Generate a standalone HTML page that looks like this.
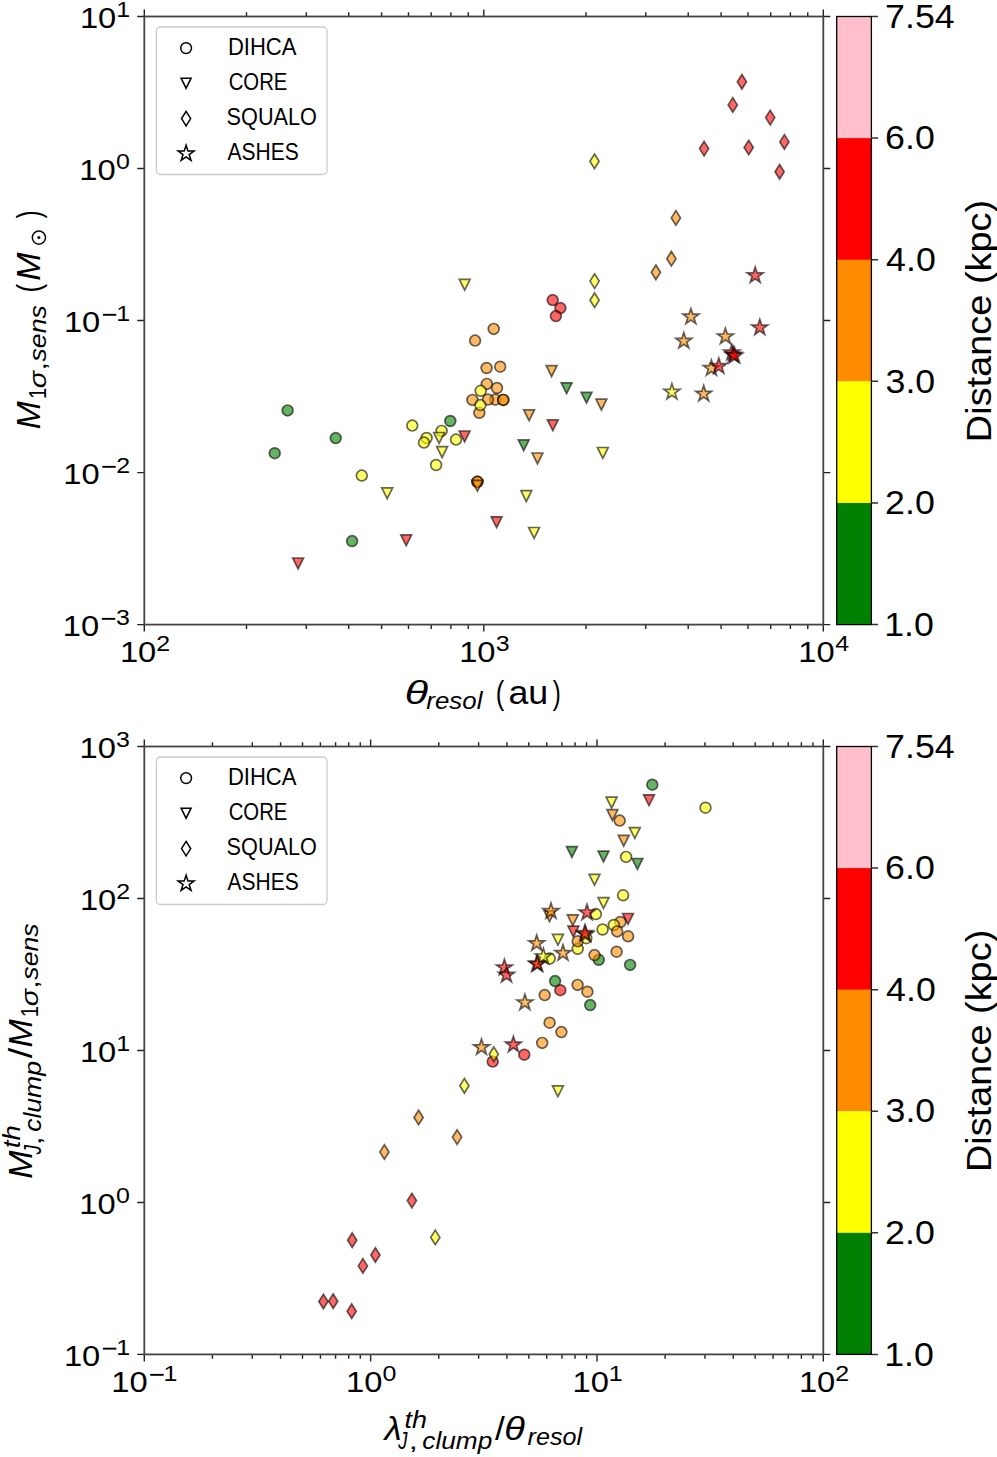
<!DOCTYPE html><html><head><meta charset="utf-8"><style>html,body{margin:0;padding:0;background:#fff;}svg{display:block;}text{font-family:"Liberation Sans", sans-serif;}</style></head><body>
<svg width="997" height="1457" viewBox="0 0 997 1457">
<rect width="997" height="1457" fill="#fff"/>
<circle cx="287.6" cy="410.4" r="5.4" fill="rgb(0,128,0)" fill-opacity="0.6" stroke="#000" stroke-opacity="0.6" stroke-width="1.7"/>
<circle cx="335.7" cy="438.1" r="5.4" fill="rgb(0,128,0)" fill-opacity="0.6" stroke="#000" stroke-opacity="0.6" stroke-width="1.7"/>
<circle cx="274.7" cy="453.2" r="5.4" fill="rgb(0,128,0)" fill-opacity="0.6" stroke="#000" stroke-opacity="0.6" stroke-width="1.7"/>
<circle cx="361.8" cy="475.6" r="5.4" fill="rgb(255,255,0)" fill-opacity="0.6" stroke="#000" stroke-opacity="0.6" stroke-width="1.7"/>
<circle cx="352.1" cy="541.1" r="5.4" fill="rgb(0,128,0)" fill-opacity="0.6" stroke="#000" stroke-opacity="0.6" stroke-width="1.7"/>
<circle cx="412.3" cy="425.6" r="5.4" fill="rgb(255,255,0)" fill-opacity="0.6" stroke="#000" stroke-opacity="0.6" stroke-width="1.7"/>
<circle cx="450.3" cy="421" r="5.4" fill="rgb(0,128,0)" fill-opacity="0.6" stroke="#000" stroke-opacity="0.6" stroke-width="1.7"/>
<circle cx="441.6" cy="430.9" r="5.4" fill="rgb(255,255,0)" fill-opacity="0.6" stroke="#000" stroke-opacity="0.6" stroke-width="1.7"/>
<circle cx="426.6" cy="438" r="5.4" fill="rgb(255,255,0)" fill-opacity="0.6" stroke="#000" stroke-opacity="0.6" stroke-width="1.7"/>
<circle cx="424" cy="442.6" r="5.4" fill="rgb(255,255,0)" fill-opacity="0.6" stroke="#000" stroke-opacity="0.6" stroke-width="1.7"/>
<circle cx="456" cy="439.6" r="5.4" fill="rgb(255,255,0)" fill-opacity="0.6" stroke="#000" stroke-opacity="0.6" stroke-width="1.7"/>
<circle cx="436.1" cy="465" r="5.4" fill="rgb(255,255,0)" fill-opacity="0.6" stroke="#000" stroke-opacity="0.6" stroke-width="1.7"/>
<circle cx="477.4" cy="481.8" r="5.4" fill="rgb(255,140,0)" fill-opacity="0.6" stroke="#000" stroke-opacity="0.6" stroke-width="1.7"/>
<circle cx="477.4" cy="481.8" r="5.4" fill="rgb(255,140,0)" fill-opacity="0.6" stroke="#000" stroke-opacity="0.6" stroke-width="1.7"/>
<circle cx="493.7" cy="328.9" r="5.4" fill="rgb(255,140,0)" fill-opacity="0.6" stroke="#000" stroke-opacity="0.6" stroke-width="1.7"/>
<circle cx="475.1" cy="340.6" r="5.4" fill="rgb(255,140,0)" fill-opacity="0.6" stroke="#000" stroke-opacity="0.6" stroke-width="1.7"/>
<circle cx="486.6" cy="368" r="5.4" fill="rgb(255,140,0)" fill-opacity="0.6" stroke="#000" stroke-opacity="0.6" stroke-width="1.7"/>
<circle cx="500.2" cy="366.7" r="5.4" fill="rgb(255,140,0)" fill-opacity="0.6" stroke="#000" stroke-opacity="0.6" stroke-width="1.7"/>
<circle cx="486.8" cy="383.9" r="5.4" fill="rgb(255,140,0)" fill-opacity="0.6" stroke="#000" stroke-opacity="0.6" stroke-width="1.7"/>
<circle cx="497" cy="388" r="5.4" fill="rgb(255,140,0)" fill-opacity="0.6" stroke="#000" stroke-opacity="0.6" stroke-width="1.7"/>
<circle cx="480.7" cy="390.8" r="5.4" fill="rgb(255,255,0)" fill-opacity="0.6" stroke="#000" stroke-opacity="0.6" stroke-width="1.7"/>
<circle cx="472.4" cy="399.9" r="5.4" fill="rgb(255,140,0)" fill-opacity="0.6" stroke="#000" stroke-opacity="0.6" stroke-width="1.7"/>
<circle cx="495.3" cy="399.6" r="5.4" fill="rgb(255,140,0)" fill-opacity="0.6" stroke="#000" stroke-opacity="0.6" stroke-width="1.7"/>
<circle cx="487.9" cy="399.6" r="5.4" fill="rgb(255,140,0)" fill-opacity="0.6" stroke="#000" stroke-opacity="0.6" stroke-width="1.7"/>
<circle cx="503.3" cy="399.9" r="5.4" fill="rgb(255,140,0)" fill-opacity="0.6" stroke="#000" stroke-opacity="0.6" stroke-width="1.7"/>
<circle cx="503.3" cy="399.9" r="5.4" fill="rgb(255,140,0)" fill-opacity="0.6" stroke="#000" stroke-opacity="0.6" stroke-width="1.7"/>
<circle cx="479.3" cy="412.8" r="5.4" fill="rgb(255,140,0)" fill-opacity="0.6" stroke="#000" stroke-opacity="0.6" stroke-width="1.7"/>
<circle cx="480.4" cy="405.1" r="5.4" fill="rgb(255,255,0)" fill-opacity="0.6" stroke="#000" stroke-opacity="0.6" stroke-width="1.7"/>
<circle cx="552.7" cy="300.1" r="5.4" fill="rgb(255,0,0)" fill-opacity="0.6" stroke="#000" stroke-opacity="0.6" stroke-width="1.7"/>
<circle cx="560.4" cy="308.1" r="5.4" fill="rgb(255,0,0)" fill-opacity="0.6" stroke="#000" stroke-opacity="0.6" stroke-width="1.7"/>
<circle cx="555.9" cy="316.1" r="5.4" fill="rgb(255,0,0)" fill-opacity="0.6" stroke="#000" stroke-opacity="0.6" stroke-width="1.7"/>
<polygon points="292.7,558 303.5,558 298.1,568.8" fill="rgb(255,0,0)" fill-opacity="0.6" stroke="#000" stroke-opacity="0.6" stroke-width="1.7" stroke-miterlimit="4"/>
<polygon points="381.8,487.9 392.6,487.9 387.2,498.7" fill="rgb(255,255,0)" fill-opacity="0.6" stroke="#000" stroke-opacity="0.6" stroke-width="1.7" stroke-miterlimit="4"/>
<polygon points="400.8,534.9 411.6,534.9 406.2,545.7" fill="rgb(255,0,0)" fill-opacity="0.6" stroke="#000" stroke-opacity="0.6" stroke-width="1.7" stroke-miterlimit="4"/>
<polygon points="433.7,432.5 444.5,432.5 439.1,443.3" fill="rgb(255,255,0)" fill-opacity="0.6" stroke="#000" stroke-opacity="0.6" stroke-width="1.7" stroke-miterlimit="4"/>
<polygon points="459.2,431 470,431 464.6,441.8" fill="rgb(255,0,0)" fill-opacity="0.6" stroke="#000" stroke-opacity="0.6" stroke-width="1.7" stroke-miterlimit="4"/>
<polygon points="436.7,446.7 447.5,446.7 442.1,457.5" fill="rgb(255,255,0)" fill-opacity="0.6" stroke="#000" stroke-opacity="0.6" stroke-width="1.7" stroke-miterlimit="4"/>
<polygon points="472,480.4 482.8,480.4 477.4,491.2" fill="rgb(255,140,0)" fill-opacity="0.6" stroke="#000" stroke-opacity="0.6" stroke-width="1.7" stroke-miterlimit="4"/>
<polygon points="459.3,279.4 470.1,279.4 464.7,290.2" fill="rgb(255,255,0)" fill-opacity="0.6" stroke="#000" stroke-opacity="0.6" stroke-width="1.7" stroke-miterlimit="4"/>
<polygon points="523.7,409.9 534.5,409.9 529.1,420.7" fill="rgb(255,140,0)" fill-opacity="0.6" stroke="#000" stroke-opacity="0.6" stroke-width="1.7" stroke-miterlimit="4"/>
<polygon points="547.4,419.9 558.2,419.9 552.8,430.7" fill="rgb(255,0,0)" fill-opacity="0.6" stroke="#000" stroke-opacity="0.6" stroke-width="1.7" stroke-miterlimit="4"/>
<polygon points="518.3,439.9 529.1,439.9 523.7,450.7" fill="rgb(0,128,0)" fill-opacity="0.6" stroke="#000" stroke-opacity="0.6" stroke-width="1.7" stroke-miterlimit="4"/>
<polygon points="532.1,453 542.9,453 537.5,463.8" fill="rgb(255,140,0)" fill-opacity="0.6" stroke="#000" stroke-opacity="0.6" stroke-width="1.7" stroke-miterlimit="4"/>
<polygon points="520.9,490.7 531.7,490.7 526.3,501.5" fill="rgb(255,255,0)" fill-opacity="0.6" stroke="#000" stroke-opacity="0.6" stroke-width="1.7" stroke-miterlimit="4"/>
<polygon points="491.2,516.8 502,516.8 496.6,527.6" fill="rgb(255,0,0)" fill-opacity="0.6" stroke="#000" stroke-opacity="0.6" stroke-width="1.7" stroke-miterlimit="4"/>
<polygon points="528.7,527.5 539.5,527.5 534.1,538.3" fill="rgb(255,255,0)" fill-opacity="0.6" stroke="#000" stroke-opacity="0.6" stroke-width="1.7" stroke-miterlimit="4"/>
<polygon points="546.2,365.7 557,365.7 551.6,376.5" fill="rgb(255,140,0)" fill-opacity="0.6" stroke="#000" stroke-opacity="0.6" stroke-width="1.7" stroke-miterlimit="4"/>
<polygon points="561.2,382.8 572,382.8 566.6,393.6" fill="rgb(0,128,0)" fill-opacity="0.6" stroke="#000" stroke-opacity="0.6" stroke-width="1.7" stroke-miterlimit="4"/>
<polygon points="581.1,392.4 591.9,392.4 586.5,403.2" fill="rgb(0,128,0)" fill-opacity="0.6" stroke="#000" stroke-opacity="0.6" stroke-width="1.7" stroke-miterlimit="4"/>
<polygon points="596,399.2 606.8,399.2 601.4,410" fill="rgb(255,140,0)" fill-opacity="0.6" stroke="#000" stroke-opacity="0.6" stroke-width="1.7" stroke-miterlimit="4"/>
<polygon points="597.4,447.5 608.2,447.5 602.8,458.3" fill="rgb(255,255,0)" fill-opacity="0.6" stroke="#000" stroke-opacity="0.6" stroke-width="1.7" stroke-miterlimit="4"/>
<polygon points="594.5,154.05 599.08,161.3 594.5,168.55 589.92,161.3" fill="rgb(255,255,0)" fill-opacity="0.6" stroke="#000" stroke-opacity="0.6" stroke-width="1.7" stroke-miterlimit="4"/>
<polygon points="594.6,273.85 599.18,281.1 594.6,288.35 590.02,281.1" fill="rgb(255,255,0)" fill-opacity="0.6" stroke="#000" stroke-opacity="0.6" stroke-width="1.7" stroke-miterlimit="4"/>
<polygon points="594.6,292.95 599.18,300.2 594.6,307.45 590.02,300.2" fill="rgb(255,255,0)" fill-opacity="0.6" stroke="#000" stroke-opacity="0.6" stroke-width="1.7" stroke-miterlimit="4"/>
<polygon points="675.9,210.65 680.48,217.9 675.9,225.15 671.32,217.9" fill="rgb(255,140,0)" fill-opacity="0.6" stroke="#000" stroke-opacity="0.6" stroke-width="1.7" stroke-miterlimit="4"/>
<polygon points="671.4,251.45 675.98,258.7 671.4,265.95 666.82,258.7" fill="rgb(255,140,0)" fill-opacity="0.6" stroke="#000" stroke-opacity="0.6" stroke-width="1.7" stroke-miterlimit="4"/>
<polygon points="655.9,265.05 660.48,272.3 655.9,279.55 651.32,272.3" fill="rgb(255,140,0)" fill-opacity="0.6" stroke="#000" stroke-opacity="0.6" stroke-width="1.7" stroke-miterlimit="4"/>
<polygon points="741.9,74.55 746.48,81.8 741.9,89.05 737.32,81.8" fill="rgb(255,0,0)" fill-opacity="0.6" stroke="#000" stroke-opacity="0.6" stroke-width="1.7" stroke-miterlimit="4"/>
<polygon points="732.8,97.65 737.38,104.9 732.8,112.15 728.22,104.9" fill="rgb(255,0,0)" fill-opacity="0.6" stroke="#000" stroke-opacity="0.6" stroke-width="1.7" stroke-miterlimit="4"/>
<polygon points="770.2,110.35 774.78,117.6 770.2,124.85 765.62,117.6" fill="rgb(255,0,0)" fill-opacity="0.6" stroke="#000" stroke-opacity="0.6" stroke-width="1.7" stroke-miterlimit="4"/>
<polygon points="704.1,141.35 708.68,148.6 704.1,155.85 699.52,148.6" fill="rgb(255,0,0)" fill-opacity="0.6" stroke="#000" stroke-opacity="0.6" stroke-width="1.7" stroke-miterlimit="4"/>
<polygon points="748.7,140.25 753.28,147.5 748.7,154.75 744.12,147.5" fill="rgb(255,0,0)" fill-opacity="0.6" stroke="#000" stroke-opacity="0.6" stroke-width="1.7" stroke-miterlimit="4"/>
<polygon points="784.4,134.65 788.98,141.9 784.4,149.15 779.82,141.9" fill="rgb(255,0,0)" fill-opacity="0.6" stroke="#000" stroke-opacity="0.6" stroke-width="1.7" stroke-miterlimit="4"/>
<polygon points="779.6,164.55 784.18,171.8 779.6,179.05 775.02,171.8" fill="rgb(255,0,0)" fill-opacity="0.6" stroke="#000" stroke-opacity="0.6" stroke-width="1.7" stroke-miterlimit="4"/>
<polygon points="690.9,308.4 689.01,314.2 682.91,314.2 687.85,317.79 685.96,323.6 690.9,320.01 695.84,323.6 693.95,317.79 698.89,314.2 692.79,314.2" fill="rgb(255,140,0)" fill-opacity="0.6" stroke="#000" stroke-opacity="0.6" stroke-width="1.7" stroke-miterlimit="4"/>
<polygon points="683.8,332.6 681.91,338.4 675.81,338.4 680.75,341.99 678.86,347.8 683.8,344.21 688.74,347.8 686.85,341.99 691.79,338.4 685.69,338.4" fill="rgb(255,140,0)" fill-opacity="0.6" stroke="#000" stroke-opacity="0.6" stroke-width="1.7" stroke-miterlimit="4"/>
<polygon points="755.2,267.1 753.31,272.9 747.21,272.9 752.15,276.49 750.26,282.3 755.2,278.71 760.14,282.3 758.25,276.49 763.19,272.9 757.09,272.9" fill="rgb(255,0,0)" fill-opacity="0.6" stroke="#000" stroke-opacity="0.6" stroke-width="1.7" stroke-miterlimit="4"/>
<polygon points="759.8,319.2 757.91,325 751.81,325 756.75,328.59 754.86,334.4 759.8,330.81 764.74,334.4 762.85,328.59 767.79,325 761.69,325" fill="rgb(255,0,0)" fill-opacity="0.6" stroke="#000" stroke-opacity="0.6" stroke-width="1.7" stroke-miterlimit="4"/>
<polygon points="725.4,328.2 723.51,334 717.41,334 722.35,337.59 720.46,343.4 725.4,339.81 730.34,343.4 728.45,337.59 733.39,334 727.29,334" fill="rgb(255,140,0)" fill-opacity="0.6" stroke="#000" stroke-opacity="0.6" stroke-width="1.7" stroke-miterlimit="4"/>
<polygon points="731.8,344.4 729.91,350.2 723.81,350.2 728.75,353.79 726.86,359.6 731.8,356.01 736.74,359.6 734.85,353.79 739.79,350.2 733.69,350.2" fill="rgb(255,0,0)" fill-opacity="0.6" stroke="#000" stroke-opacity="0.6" stroke-width="1.7" stroke-miterlimit="4"/>
<polygon points="733.2,346.6 731.31,352.4 725.21,352.4 730.15,355.99 728.26,361.8 733.2,358.21 738.14,361.8 736.25,355.99 741.19,352.4 735.09,352.4" fill="rgb(255,0,0)" fill-opacity="0.6" stroke="#000" stroke-opacity="0.6" stroke-width="1.7" stroke-miterlimit="4"/>
<polygon points="734.6,347.4 732.71,353.2 726.61,353.2 731.55,356.79 729.66,362.6 734.6,359.01 739.54,362.6 737.65,356.79 742.59,353.2 736.49,353.2" fill="rgb(255,0,0)" fill-opacity="0.6" stroke="#000" stroke-opacity="0.6" stroke-width="1.7" stroke-miterlimit="4"/>
<polygon points="711.4,359.9 709.51,365.7 703.41,365.7 708.35,369.29 706.46,375.1 711.4,371.51 716.34,375.1 714.45,369.29 719.39,365.7 713.29,365.7" fill="rgb(255,140,0)" fill-opacity="0.6" stroke="#000" stroke-opacity="0.6" stroke-width="1.7" stroke-miterlimit="4"/>
<polygon points="718.8,357.9 716.91,363.7 710.81,363.7 715.75,367.29 713.86,373.1 718.8,369.51 723.74,373.1 721.85,367.29 726.79,363.7 720.69,363.7" fill="rgb(255,0,0)" fill-opacity="0.6" stroke="#000" stroke-opacity="0.6" stroke-width="1.7" stroke-miterlimit="4"/>
<polygon points="671.9,383.6 670.01,389.4 663.91,389.4 668.85,392.99 666.96,398.8 671.9,395.21 676.84,398.8 674.95,392.99 679.89,389.4 673.79,389.4" fill="rgb(255,255,0)" fill-opacity="0.6" stroke="#000" stroke-opacity="0.6" stroke-width="1.7" stroke-miterlimit="4"/>
<polygon points="703.7,385.5 701.81,391.3 695.71,391.3 700.65,394.89 698.76,400.7 703.7,397.11 708.64,400.7 706.75,394.89 711.69,391.3 705.59,391.3" fill="rgb(255,140,0)" fill-opacity="0.6" stroke="#000" stroke-opacity="0.6" stroke-width="1.7" stroke-miterlimit="4"/>
<path d="M144.3 624.6L144.3 631.6 M144.3 16.5L144.3 9.5 M246.5 624.6L246.5 628.9 M246.5 16.5L246.5 12.2 M306.28 624.6L306.28 628.9 M306.28 16.5L306.28 12.2 M348.7 624.6L348.7 628.9 M348.7 16.5L348.7 12.2 M381.6 624.6L381.6 628.9 M381.6 16.5L381.6 12.2 M408.48 624.6L408.48 628.9 M408.48 16.5L408.48 12.2 M431.21 624.6L431.21 628.9 M431.21 16.5L431.21 12.2 M450.9 624.6L450.9 628.9 M450.9 16.5L450.9 12.2 M468.27 624.6L468.27 628.9 M468.27 16.5L468.27 12.2 M483.8 624.6L483.8 631.6 M483.8 16.5L483.8 9.5 M586 624.6L586 628.9 M586 16.5L586 12.2 M645.78 624.6L645.78 628.9 M645.78 16.5L645.78 12.2 M688.2 624.6L688.2 628.9 M688.2 16.5L688.2 12.2 M721.1 624.6L721.1 628.9 M721.1 16.5L721.1 12.2 M747.98 624.6L747.98 628.9 M747.98 16.5L747.98 12.2 M770.71 624.6L770.71 628.9 M770.71 16.5L770.71 12.2 M790.4 624.6L790.4 628.9 M790.4 16.5L790.4 12.2 M807.77 624.6L807.77 628.9 M807.77 16.5L807.77 12.2 M823.3 624.6L823.3 631.6 M823.3 16.5L823.3 9.5 M144.3 624.6L137.3 624.6 M823.3 624.6L830.3 624.6 M144.3 472.58L137.3 472.58 M823.3 472.58L830.3 472.58 M144.3 320.55L137.3 320.55 M823.3 320.55L830.3 320.55 M144.3 168.52L137.3 168.52 M823.3 168.52L830.3 168.52 M144.3 16.5L137.3 16.5 M823.3 16.5L830.3 16.5" stroke="#222" stroke-width="1.4" fill="none"/>
<rect x="144.3" y="16.5" width="679" height="608.1" fill="none" stroke="#444" stroke-width="1.8"/>
<text transform="translate(62.87,635.8) scale(1.0899,1)" style="font-size:30px;" fill="#000">10</text>
<rect x="101.86" y="617.9" width="13.4" height="1.9" fill="#000"/>
<text transform="translate(116.01,625.2) scale(1.1200,1)" style="font-size:22.3px;" fill="#000">3</text>
<text transform="translate(63.33,483.78) scale(1.0899,1)" style="font-size:30px;" fill="#000">10</text>
<rect x="102.32" y="465.88" width="13.4" height="1.9" fill="#000"/>
<text transform="translate(116.17,473.18) scale(1.1200,1)" style="font-size:22.3px;" fill="#000">2</text>
<text transform="translate(63.94,331.75) scale(1.0899,1)" style="font-size:30px;" fill="#000">10</text>
<rect x="102.93" y="313.85" width="13.4" height="1.9" fill="#000"/>
<text transform="translate(116.13,321.15) scale(1.1200,1)" style="font-size:22.3px;" fill="#000">1</text>
<text transform="translate(79.37,179.72) scale(1.0899,1)" style="font-size:30px;" fill="#000">10</text>
<text transform="translate(115.89,169.12) scale(1.1200,1)" style="font-size:22.3px;" fill="#000">0</text>
<text transform="translate(79.94,27.7) scale(1.0899,1)" style="font-size:30px;" fill="#000">10</text>
<text transform="translate(116.13,17.1) scale(1.1200,1)" style="font-size:22.3px;" fill="#000">1</text>
<text transform="translate(119.92,662) scale(1.0899,1)" style="font-size:30px;" fill="#000">10</text>
<text transform="translate(156.15,651.4) scale(1.1200,1)" style="font-size:22.3px;" fill="#000">2</text>
<text transform="translate(459.19,662) scale(1.0899,1)" style="font-size:30px;" fill="#000">10</text>
<text transform="translate(495.73,651.4) scale(1.1200,1)" style="font-size:22.3px;" fill="#000">3</text>
<text transform="translate(798.32,662) scale(1.0899,1)" style="font-size:30px;" fill="#000">10</text>
<text transform="translate(835.23,651.4) scale(1.1200,1)" style="font-size:22.3px;" fill="#000">4</text>
<circle cx="492.7" cy="1061.6" r="5.4" fill="rgb(255,0,0)" fill-opacity="0.6" stroke="#000" stroke-opacity="0.6" stroke-width="1.7"/>
<circle cx="524.3" cy="1054.7" r="5.4" fill="rgb(255,0,0)" fill-opacity="0.6" stroke="#000" stroke-opacity="0.6" stroke-width="1.7"/>
<circle cx="560.3" cy="990.2" r="5.4" fill="rgb(255,0,0)" fill-opacity="0.6" stroke="#000" stroke-opacity="0.6" stroke-width="1.7"/>
<circle cx="542.2" cy="1042.9" r="5.4" fill="rgb(255,140,0)" fill-opacity="0.6" stroke="#000" stroke-opacity="0.6" stroke-width="1.7"/>
<circle cx="549.6" cy="1022.7" r="5.4" fill="rgb(255,140,0)" fill-opacity="0.6" stroke="#000" stroke-opacity="0.6" stroke-width="1.7"/>
<circle cx="561.4" cy="1032.1" r="5.4" fill="rgb(255,140,0)" fill-opacity="0.6" stroke="#000" stroke-opacity="0.6" stroke-width="1.7"/>
<circle cx="544.7" cy="995.1" r="5.4" fill="rgb(255,140,0)" fill-opacity="0.6" stroke="#000" stroke-opacity="0.6" stroke-width="1.7"/>
<circle cx="577.6" cy="984.9" r="5.4" fill="rgb(255,140,0)" fill-opacity="0.6" stroke="#000" stroke-opacity="0.6" stroke-width="1.7"/>
<circle cx="587.4" cy="991.7" r="5.4" fill="rgb(255,140,0)" fill-opacity="0.6" stroke="#000" stroke-opacity="0.6" stroke-width="1.7"/>
<circle cx="598.8" cy="959.8" r="5.4" fill="rgb(0,128,0)" fill-opacity="0.6" stroke="#000" stroke-opacity="0.6" stroke-width="1.7"/>
<circle cx="594.5" cy="955.1" r="5.4" fill="rgb(255,140,0)" fill-opacity="0.6" stroke="#000" stroke-opacity="0.6" stroke-width="1.7"/>
<circle cx="616.6" cy="951.7" r="5.4" fill="rgb(255,140,0)" fill-opacity="0.6" stroke="#000" stroke-opacity="0.6" stroke-width="1.7"/>
<circle cx="620.4" cy="922" r="5.4" fill="rgb(255,140,0)" fill-opacity="0.6" stroke="#000" stroke-opacity="0.6" stroke-width="1.7"/>
<circle cx="628.1" cy="936.3" r="5.4" fill="rgb(255,140,0)" fill-opacity="0.6" stroke="#000" stroke-opacity="0.6" stroke-width="1.7"/>
<circle cx="619.7" cy="820.6" r="5.4" fill="rgb(255,140,0)" fill-opacity="0.6" stroke="#000" stroke-opacity="0.6" stroke-width="1.7"/>
<circle cx="555.1" cy="981.1" r="5.4" fill="rgb(0,128,0)" fill-opacity="0.6" stroke="#000" stroke-opacity="0.6" stroke-width="1.7"/>
<circle cx="590.2" cy="1005.1" r="5.4" fill="rgb(0,128,0)" fill-opacity="0.6" stroke="#000" stroke-opacity="0.6" stroke-width="1.7"/>
<circle cx="630.1" cy="964.9" r="5.4" fill="rgb(0,128,0)" fill-opacity="0.6" stroke="#000" stroke-opacity="0.6" stroke-width="1.7"/>
<circle cx="652.3" cy="784.7" r="5.4" fill="rgb(0,128,0)" fill-opacity="0.6" stroke="#000" stroke-opacity="0.6" stroke-width="1.7"/>
<circle cx="595.9" cy="914.1" r="5.4" fill="rgb(255,255,0)" fill-opacity="0.6" stroke="#000" stroke-opacity="0.6" stroke-width="1.7"/>
<circle cx="602.6" cy="929.5" r="5.4" fill="rgb(255,255,0)" fill-opacity="0.6" stroke="#000" stroke-opacity="0.6" stroke-width="1.7"/>
<circle cx="613.8" cy="925" r="5.4" fill="rgb(255,255,0)" fill-opacity="0.6" stroke="#000" stroke-opacity="0.6" stroke-width="1.7"/>
<circle cx="617.2" cy="931.4" r="5.4" fill="rgb(255,140,0)" fill-opacity="0.6" stroke="#000" stroke-opacity="0.6" stroke-width="1.7"/>
<circle cx="623.1" cy="895.3" r="5.4" fill="rgb(255,255,0)" fill-opacity="0.6" stroke="#000" stroke-opacity="0.6" stroke-width="1.7"/>
<circle cx="626.1" cy="856.9" r="5.4" fill="rgb(255,255,0)" fill-opacity="0.6" stroke="#000" stroke-opacity="0.6" stroke-width="1.7"/>
<circle cx="705.5" cy="807.7" r="5.4" fill="rgb(255,255,0)" fill-opacity="0.6" stroke="#000" stroke-opacity="0.6" stroke-width="1.7"/>
<circle cx="549.7" cy="958.6" r="5.4" fill="rgb(255,255,0)" fill-opacity="0.6" stroke="#000" stroke-opacity="0.6" stroke-width="1.7"/>
<circle cx="577.7" cy="948.8" r="5.4" fill="rgb(255,255,0)" fill-opacity="0.6" stroke="#000" stroke-opacity="0.6" stroke-width="1.7"/>
<circle cx="577.7" cy="941.3" r="5.4" fill="rgb(255,140,0)" fill-opacity="0.6" stroke="#000" stroke-opacity="0.6" stroke-width="1.7"/>
<circle cx="586.3" cy="938.2" r="5.4" fill="rgb(255,255,0)" fill-opacity="0.6" stroke="#000" stroke-opacity="0.6" stroke-width="1.7"/>
<polygon points="606.2,797.2 617,797.2 611.6,808" fill="rgb(255,255,0)" fill-opacity="0.6" stroke="#000" stroke-opacity="0.6" stroke-width="1.7" stroke-miterlimit="4"/>
<polygon points="629.4,827.6 640.2,827.6 634.8,838.4" fill="rgb(255,255,0)" fill-opacity="0.6" stroke="#000" stroke-opacity="0.6" stroke-width="1.7" stroke-miterlimit="4"/>
<polygon points="589.1,874.4 599.9,874.4 594.5,885.2" fill="rgb(255,255,0)" fill-opacity="0.6" stroke="#000" stroke-opacity="0.6" stroke-width="1.7" stroke-miterlimit="4"/>
<polygon points="598.1,897.6 608.9,897.6 603.5,908.4" fill="rgb(255,255,0)" fill-opacity="0.6" stroke="#000" stroke-opacity="0.6" stroke-width="1.7" stroke-miterlimit="4"/>
<polygon points="552.5,934.4 563.3,934.4 557.9,945.2" fill="rgb(255,255,0)" fill-opacity="0.6" stroke="#000" stroke-opacity="0.6" stroke-width="1.7" stroke-miterlimit="4"/>
<polygon points="552.5,1085.8 563.3,1085.8 557.9,1096.6" fill="rgb(255,255,0)" fill-opacity="0.6" stroke="#000" stroke-opacity="0.6" stroke-width="1.7" stroke-miterlimit="4"/>
<polygon points="607,809.7 617.8,809.7 612.4,820.5" fill="rgb(255,140,0)" fill-opacity="0.6" stroke="#000" stroke-opacity="0.6" stroke-width="1.7" stroke-miterlimit="4"/>
<polygon points="544.1,910.9 554.9,910.9 549.5,921.7" fill="rgb(255,140,0)" fill-opacity="0.6" stroke="#000" stroke-opacity="0.6" stroke-width="1.7" stroke-miterlimit="4"/>
<polygon points="618.3,835.4 629.1,835.4 623.7,846.2" fill="rgb(255,140,0)" fill-opacity="0.6" stroke="#000" stroke-opacity="0.6" stroke-width="1.7" stroke-miterlimit="4"/>
<polygon points="567.4,914.8 578.2,914.8 572.8,925.6" fill="rgb(255,140,0)" fill-opacity="0.6" stroke="#000" stroke-opacity="0.6" stroke-width="1.7" stroke-miterlimit="4"/>
<polygon points="643.6,794.8 654.4,794.8 649,805.6" fill="rgb(255,0,0)" fill-opacity="0.6" stroke="#000" stroke-opacity="0.6" stroke-width="1.7" stroke-miterlimit="4"/>
<polygon points="622.6,913.5 633.4,913.5 628,924.3" fill="rgb(255,0,0)" fill-opacity="0.6" stroke="#000" stroke-opacity="0.6" stroke-width="1.7" stroke-miterlimit="4"/>
<polygon points="568,926.1 578.8,926.1 573.4,936.9" fill="rgb(255,0,0)" fill-opacity="0.6" stroke="#000" stroke-opacity="0.6" stroke-width="1.7" stroke-miterlimit="4"/>
<polygon points="566.5,846.6 577.3,846.6 571.9,857.4" fill="rgb(0,128,0)" fill-opacity="0.6" stroke="#000" stroke-opacity="0.6" stroke-width="1.7" stroke-miterlimit="4"/>
<polygon points="598.1,851.1 608.9,851.1 603.5,861.9" fill="rgb(0,128,0)" fill-opacity="0.6" stroke="#000" stroke-opacity="0.6" stroke-width="1.7" stroke-miterlimit="4"/>
<polygon points="632,858.5 642.8,858.5 637.4,869.3" fill="rgb(0,128,0)" fill-opacity="0.6" stroke="#000" stroke-opacity="0.6" stroke-width="1.7" stroke-miterlimit="4"/>
<polygon points="411.9,1193.35 416.48,1200.6 411.9,1207.85 407.32,1200.6" fill="rgb(255,0,0)" fill-opacity="0.6" stroke="#000" stroke-opacity="0.6" stroke-width="1.7" stroke-miterlimit="4"/>
<polygon points="352.2,1232.95 356.78,1240.2 352.2,1247.45 347.62,1240.2" fill="rgb(255,0,0)" fill-opacity="0.6" stroke="#000" stroke-opacity="0.6" stroke-width="1.7" stroke-miterlimit="4"/>
<polygon points="375.4,1247.75 379.98,1255 375.4,1262.25 370.82,1255" fill="rgb(255,0,0)" fill-opacity="0.6" stroke="#000" stroke-opacity="0.6" stroke-width="1.7" stroke-miterlimit="4"/>
<polygon points="362.9,1258.65 367.48,1265.9 362.9,1273.15 358.32,1265.9" fill="rgb(255,0,0)" fill-opacity="0.6" stroke="#000" stroke-opacity="0.6" stroke-width="1.7" stroke-miterlimit="4"/>
<polygon points="323.4,1294.25 327.98,1301.5 323.4,1308.75 318.82,1301.5" fill="rgb(255,0,0)" fill-opacity="0.6" stroke="#000" stroke-opacity="0.6" stroke-width="1.7" stroke-miterlimit="4"/>
<polygon points="333.2,1293.95 337.78,1301.2 333.2,1308.45 328.62,1301.2" fill="rgb(255,0,0)" fill-opacity="0.6" stroke="#000" stroke-opacity="0.6" stroke-width="1.7" stroke-miterlimit="4"/>
<polygon points="351.7,1303.95 356.28,1311.2 351.7,1318.45 347.12,1311.2" fill="rgb(255,0,0)" fill-opacity="0.6" stroke="#000" stroke-opacity="0.6" stroke-width="1.7" stroke-miterlimit="4"/>
<polygon points="435.3,1230.15 439.88,1237.4 435.3,1244.65 430.72,1237.4" fill="rgb(255,255,0)" fill-opacity="0.6" stroke="#000" stroke-opacity="0.6" stroke-width="1.7" stroke-miterlimit="4"/>
<polygon points="464.4,1078.55 468.98,1085.8 464.4,1093.05 459.82,1085.8" fill="rgb(255,255,0)" fill-opacity="0.6" stroke="#000" stroke-opacity="0.6" stroke-width="1.7" stroke-miterlimit="4"/>
<polygon points="493.8,1046.95 498.38,1054.2 493.8,1061.45 489.22,1054.2" fill="rgb(255,255,0)" fill-opacity="0.6" stroke="#000" stroke-opacity="0.6" stroke-width="1.7" stroke-miterlimit="4"/>
<polygon points="418.6,1110.25 423.18,1117.5 418.6,1124.75 414.02,1117.5" fill="rgb(255,140,0)" fill-opacity="0.6" stroke="#000" stroke-opacity="0.6" stroke-width="1.7" stroke-miterlimit="4"/>
<polygon points="457.1,1129.85 461.68,1137.1 457.1,1144.35 452.52,1137.1" fill="rgb(255,140,0)" fill-opacity="0.6" stroke="#000" stroke-opacity="0.6" stroke-width="1.7" stroke-miterlimit="4"/>
<polygon points="384.4,1144.75 388.98,1152 384.4,1159.25 379.82,1152" fill="rgb(255,140,0)" fill-opacity="0.6" stroke="#000" stroke-opacity="0.6" stroke-width="1.7" stroke-miterlimit="4"/>
<polygon points="524.9,994.2 523.01,1000 516.91,1000 521.85,1003.59 519.96,1009.4 524.9,1005.81 529.84,1009.4 527.95,1003.59 532.89,1000 526.79,1000" fill="rgb(255,140,0)" fill-opacity="0.6" stroke="#000" stroke-opacity="0.6" stroke-width="1.7" stroke-miterlimit="4"/>
<polygon points="481.5,1039 479.61,1044.8 473.51,1044.8 478.45,1048.39 476.56,1054.2 481.5,1050.61 486.44,1054.2 484.55,1048.39 489.49,1044.8 483.39,1044.8" fill="rgb(255,140,0)" fill-opacity="0.6" stroke="#000" stroke-opacity="0.6" stroke-width="1.7" stroke-miterlimit="4"/>
<polygon points="551,902.9 549.11,908.7 543.01,908.7 547.95,912.29 546.06,918.1 551,914.51 555.94,918.1 554.05,912.29 558.99,908.7 552.89,908.7" fill="rgb(255,140,0)" fill-opacity="0.6" stroke="#000" stroke-opacity="0.6" stroke-width="1.7" stroke-miterlimit="4"/>
<polygon points="536.7,935 534.81,940.8 528.71,940.8 533.65,944.39 531.76,950.2 536.7,946.61 541.64,950.2 539.75,944.39 544.69,940.8 538.59,940.8" fill="rgb(255,140,0)" fill-opacity="0.6" stroke="#000" stroke-opacity="0.6" stroke-width="1.7" stroke-miterlimit="4"/>
<polygon points="563,944.8 561.11,950.6 555.01,950.6 559.95,954.19 558.06,960 563,956.41 567.94,960 566.05,954.19 570.99,950.6 564.89,950.6" fill="rgb(255,140,0)" fill-opacity="0.6" stroke="#000" stroke-opacity="0.6" stroke-width="1.7" stroke-miterlimit="4"/>
<polygon points="585.5,926.1 583.61,931.9 577.51,931.9 582.45,935.49 580.56,941.3 585.5,937.71 590.44,941.3 588.55,935.49 593.49,931.9 587.39,931.9" fill="rgb(255,140,0)" fill-opacity="0.6" stroke="#000" stroke-opacity="0.6" stroke-width="1.7" stroke-miterlimit="4"/>
<polygon points="536.8,955.6 534.91,961.4 528.81,961.4 533.75,964.99 531.86,970.8 536.8,967.21 541.74,970.8 539.85,964.99 544.79,961.4 538.69,961.4" fill="rgb(255,140,0)" fill-opacity="0.6" stroke="#000" stroke-opacity="0.6" stroke-width="1.7" stroke-miterlimit="4"/>
<polygon points="513.4,1036.3 511.51,1042.1 505.41,1042.1 510.35,1045.69 508.46,1051.5 513.4,1047.91 518.34,1051.5 516.45,1045.69 521.39,1042.1 515.29,1042.1" fill="rgb(255,0,0)" fill-opacity="0.6" stroke="#000" stroke-opacity="0.6" stroke-width="1.7" stroke-miterlimit="4"/>
<polygon points="587,904.2 585.11,910 579.01,910 583.95,913.59 582.06,919.4 587,915.81 591.94,919.4 590.05,913.59 594.99,910 588.89,910" fill="rgb(255,0,0)" fill-opacity="0.6" stroke="#000" stroke-opacity="0.6" stroke-width="1.7" stroke-miterlimit="4"/>
<polygon points="584.8,924.9 582.91,930.7 576.81,930.7 581.75,934.29 579.86,940.1 584.8,936.51 589.74,940.1 587.85,934.29 592.79,930.7 586.69,930.7" fill="rgb(255,0,0)" fill-opacity="0.6" stroke="#000" stroke-opacity="0.6" stroke-width="1.7" stroke-miterlimit="4"/>
<polygon points="537.6,955.6 535.71,961.4 529.61,961.4 534.55,964.99 532.66,970.8 537.6,967.21 542.54,970.8 540.65,964.99 545.59,961.4 539.49,961.4" fill="rgb(255,0,0)" fill-opacity="0.6" stroke="#000" stroke-opacity="0.6" stroke-width="1.7" stroke-miterlimit="4"/>
<polygon points="504.4,959.2 502.51,965 496.41,965 501.35,968.59 499.46,974.4 504.4,970.81 509.34,974.4 507.45,968.59 512.39,965 506.29,965" fill="rgb(255,0,0)" fill-opacity="0.6" stroke="#000" stroke-opacity="0.6" stroke-width="1.7" stroke-miterlimit="4"/>
<polygon points="506.5,966.6 504.61,972.4 498.51,972.4 503.45,975.99 501.56,981.8 506.5,978.21 511.44,981.8 509.55,975.99 514.49,972.4 508.39,972.4" fill="rgb(255,0,0)" fill-opacity="0.6" stroke="#000" stroke-opacity="0.6" stroke-width="1.7" stroke-miterlimit="4"/>
<polygon points="543.4,948.2 541.51,954 535.41,954 540.35,957.59 538.46,963.4 543.4,959.81 548.34,963.4 546.45,957.59 551.39,954 545.29,954" fill="rgb(255,255,0)" fill-opacity="0.6" stroke="#000" stroke-opacity="0.6" stroke-width="1.7" stroke-miterlimit="4"/>
<path d="M144.3 1354.4L144.3 1361.4 M144.3 746.5L144.3 739.5 M212.43 1354.4L212.43 1358.7 M212.43 746.5L212.43 742.2 M252.29 1354.4L252.29 1358.7 M252.29 746.5L252.29 742.2 M280.57 1354.4L280.57 1358.7 M280.57 746.5L280.57 742.2 M302.5 1354.4L302.5 1358.7 M302.5 746.5L302.5 742.2 M320.42 1354.4L320.42 1358.7 M320.42 746.5L320.42 742.2 M335.57 1354.4L335.57 1358.7 M335.57 746.5L335.57 742.2 M348.7 1354.4L348.7 1358.7 M348.7 746.5L348.7 742.2 M360.28 1354.4L360.28 1358.7 M360.28 746.5L360.28 742.2 M370.63 1354.4L370.63 1361.4 M370.63 746.5L370.63 739.5 M438.77 1354.4L438.77 1358.7 M438.77 746.5L438.77 742.2 M478.62 1354.4L478.62 1358.7 M478.62 746.5L478.62 742.2 M506.9 1354.4L506.9 1358.7 M506.9 746.5L506.9 742.2 M528.83 1354.4L528.83 1358.7 M528.83 746.5L528.83 742.2 M546.75 1354.4L546.75 1358.7 M546.75 746.5L546.75 742.2 M561.91 1354.4L561.91 1358.7 M561.91 746.5L561.91 742.2 M575.03 1354.4L575.03 1358.7 M575.03 746.5L575.03 742.2 M586.61 1354.4L586.61 1358.7 M586.61 746.5L586.61 742.2 M596.97 1354.4L596.97 1361.4 M596.97 746.5L596.97 739.5 M665.1 1354.4L665.1 1358.7 M665.1 746.5L665.1 742.2 M704.96 1354.4L704.96 1358.7 M704.96 746.5L704.96 742.2 M733.23 1354.4L733.23 1358.7 M733.23 746.5L733.23 742.2 M755.17 1354.4L755.17 1358.7 M755.17 746.5L755.17 742.2 M773.09 1354.4L773.09 1358.7 M773.09 746.5L773.09 742.2 M788.24 1354.4L788.24 1358.7 M788.24 746.5L788.24 742.2 M801.37 1354.4L801.37 1358.7 M801.37 746.5L801.37 742.2 M812.94 1354.4L812.94 1358.7 M812.94 746.5L812.94 742.2 M823.3 1354.4L823.3 1361.4 M823.3 746.5L823.3 739.5 M144.3 1354.4L137.3 1354.4 M823.3 1354.4L830.3 1354.4 M144.3 1202.43L137.3 1202.43 M823.3 1202.43L830.3 1202.43 M144.3 1050.45L137.3 1050.45 M823.3 1050.45L830.3 1050.45 M144.3 898.48L137.3 898.48 M823.3 898.48L830.3 898.48 M144.3 746.5L137.3 746.5 M823.3 746.5L830.3 746.5" stroke="#222" stroke-width="1.4" fill="none"/>
<rect x="144.3" y="746.5" width="679" height="607.9" fill="none" stroke="#444" stroke-width="1.8"/>
<text transform="translate(63.94,1365.6) scale(1.0899,1)" style="font-size:30px;" fill="#000">10</text>
<rect x="102.93" y="1347.7" width="13.4" height="1.9" fill="#000"/>
<text transform="translate(116.13,1355) scale(1.1200,1)" style="font-size:22.3px;" fill="#000">1</text>
<text transform="translate(79.37,1213.63) scale(1.0899,1)" style="font-size:30px;" fill="#000">10</text>
<text transform="translate(115.89,1203.03) scale(1.1200,1)" style="font-size:22.3px;" fill="#000">0</text>
<text transform="translate(79.94,1061.65) scale(1.0899,1)" style="font-size:30px;" fill="#000">10</text>
<text transform="translate(116.13,1051.05) scale(1.1200,1)" style="font-size:22.3px;" fill="#000">1</text>
<text transform="translate(79.93,909.68) scale(1.0899,1)" style="font-size:30px;" fill="#000">10</text>
<text transform="translate(116.17,899.08) scale(1.1200,1)" style="font-size:22.3px;" fill="#000">2</text>
<text transform="translate(79.47,757.7) scale(1.0899,1)" style="font-size:30px;" fill="#000">10</text>
<text transform="translate(116.01,747.1) scale(1.1200,1)" style="font-size:22.3px;" fill="#000">3</text>
<text transform="translate(111.23,1391.8) scale(1.0899,1)" style="font-size:30px;" fill="#000">10</text>
<rect x="150.22" y="1373.9" width="13.4" height="1.9" fill="#000"/>
<text transform="translate(163.41,1381.2) scale(1.1200,1)" style="font-size:22.3px;" fill="#000">1</text>
<text transform="translate(345.97,1391.8) scale(1.0899,1)" style="font-size:30px;" fill="#000">10</text>
<text transform="translate(382.49,1381.2) scale(1.1200,1)" style="font-size:22.3px;" fill="#000">0</text>
<text transform="translate(572.59,1391.8) scale(1.0899,1)" style="font-size:30px;" fill="#000">10</text>
<text transform="translate(608.78,1381.2) scale(1.1200,1)" style="font-size:22.3px;" fill="#000">1</text>
<text transform="translate(798.92,1391.8) scale(1.0899,1)" style="font-size:30px;" fill="#000">10</text>
<text transform="translate(835.15,1381.2) scale(1.1200,1)" style="font-size:22.3px;" fill="#000">2</text>
<rect x="836.7" y="16.5" width="34.7" height="121.92" fill="#ffc0cb"/>
<rect x="836.7" y="138.12" width="34.7" height="121.92" fill="#ff0000"/>
<rect x="836.7" y="259.74" width="34.7" height="121.92" fill="#ff8c00"/>
<rect x="836.7" y="381.36" width="34.7" height="121.92" fill="#ffff00"/>
<rect x="836.7" y="502.98" width="34.7" height="121.92" fill="#008000"/>
<rect x="836.7" y="16.5" width="34.7" height="608.1" fill="none" stroke="#000" stroke-width="1.3"/>
<text transform="translate(885.07,27.7) scale(1.0900,1)" style="font-size:32.8px;" fill="#000">7.54</text>
<text transform="translate(885.08,149.32) scale(1.0900,1)" style="font-size:32.8px;" fill="#000">6.0</text>
<text transform="translate(886.08,270.94) scale(1.0900,1)" style="font-size:32.8px;" fill="#000">4.0</text>
<text transform="translate(885.54,392.56) scale(1.0900,1)" style="font-size:32.8px;" fill="#000">3.0</text>
<text transform="translate(885.1,514.18) scale(1.0900,1)" style="font-size:32.8px;" fill="#000">2.0</text>
<text transform="translate(884.18,635.8) scale(1.0900,1)" style="font-size:32.8px;" fill="#000">1.0</text>
<path d="M871.4 16.5L878 16.5 M871.4 138.12L878 138.12 M871.4 259.74L878 259.74 M871.4 381.36L878 381.36 M871.4 502.98L878 502.98 M871.4 624.6L878 624.6" stroke="#333" stroke-width="1.5"/>
<text transform="translate(990.6,320.55) rotate(-90) translate(-121.61,0) scale(1.0840,1)" style="font-size:35px">Distance (kpc)</text>
<rect x="836.7" y="746.5" width="34.7" height="121.88" fill="#ffc0cb"/>
<rect x="836.7" y="868.08" width="34.7" height="121.88" fill="#ff0000"/>
<rect x="836.7" y="989.66" width="34.7" height="121.88" fill="#ff8c00"/>
<rect x="836.7" y="1111.24" width="34.7" height="121.88" fill="#ffff00"/>
<rect x="836.7" y="1232.82" width="34.7" height="121.88" fill="#008000"/>
<rect x="836.7" y="746.5" width="34.7" height="607.9" fill="none" stroke="#000" stroke-width="1.3"/>
<text transform="translate(885.07,757.7) scale(1.0900,1)" style="font-size:32.8px;" fill="#000">7.54</text>
<text transform="translate(885.08,879.28) scale(1.0900,1)" style="font-size:32.8px;" fill="#000">6.0</text>
<text transform="translate(886.08,1000.86) scale(1.0900,1)" style="font-size:32.8px;" fill="#000">4.0</text>
<text transform="translate(885.54,1122.44) scale(1.0900,1)" style="font-size:32.8px;" fill="#000">3.0</text>
<text transform="translate(885.1,1244.02) scale(1.0900,1)" style="font-size:32.8px;" fill="#000">2.0</text>
<text transform="translate(884.18,1365.6) scale(1.0900,1)" style="font-size:32.8px;" fill="#000">1.0</text>
<path d="M871.4 746.5L878 746.5 M871.4 868.08L878 868.08 M871.4 989.66L878 989.66 M871.4 1111.24L878 1111.24 M871.4 1232.82L878 1232.82 M871.4 1354.4L878 1354.4" stroke="#333" stroke-width="1.5"/>
<text transform="translate(990.6,1050.45) rotate(-90) translate(-121.61,0) scale(1.0840,1)" style="font-size:35px">Distance (kpc)</text>
<rect x="156.4" y="27" width="170.6" height="147.5" rx="4" ry="4" fill="#fff" fill-opacity="0.8" stroke="#ccc" stroke-width="1.3"/>
<circle cx="186.1" cy="48.1" r="5.4" fill="none" stroke="#000" stroke-width="1.5"/>
<text transform="translate(227.89,54.8) scale(0.9594,1)" style="font-size:23px;" fill="#000">DIHCA</text>
<polygon points="181.1,78.2 191.1,78.2 186.1,88.2" fill="none" stroke="#000" stroke-width="1.5" stroke-miterlimit="4"/>
<text transform="translate(228.67,89.8) scale(0.8834,1)" style="font-size:23px;" fill="#000">CORE</text>
<polygon points="186.1,111.35 190.68,118.6 186.1,125.85 181.52,118.6" fill="none" stroke="#000" stroke-width="1.5" stroke-miterlimit="4"/>
<text transform="translate(226.62,124.8) scale(0.9422,1)" style="font-size:23px;" fill="#000">SQUALO</text>
<polygon points="186.1,145.2 184.21,151 178.11,151 183.05,154.59 181.16,160.4 186.1,156.81 191.04,160.4 189.15,154.59 194.09,151 187.99,151" fill="none" stroke="#000" stroke-width="1.5" stroke-miterlimit="4"/>
<text transform="translate(227.56,159.8) scale(0.9145,1)" style="font-size:23px;" fill="#000">ASHES</text>
<rect x="156.4" y="757" width="170.6" height="147.5" rx="4" ry="4" fill="#fff" fill-opacity="0.8" stroke="#ccc" stroke-width="1.3"/>
<circle cx="186.1" cy="778.1" r="5.4" fill="none" stroke="#000" stroke-width="1.5"/>
<text transform="translate(227.89,784.8) scale(0.9594,1)" style="font-size:23px;" fill="#000">DIHCA</text>
<polygon points="181.1,808.2 191.1,808.2 186.1,818.2" fill="none" stroke="#000" stroke-width="1.5" stroke-miterlimit="4"/>
<text transform="translate(228.67,819.8) scale(0.8834,1)" style="font-size:23px;" fill="#000">CORE</text>
<polygon points="186.1,841.35 190.68,848.6 186.1,855.85 181.52,848.6" fill="none" stroke="#000" stroke-width="1.5" stroke-miterlimit="4"/>
<text transform="translate(226.62,854.8) scale(0.9422,1)" style="font-size:23px;" fill="#000">SQUALO</text>
<polygon points="186.1,875.2 184.21,881 178.11,881 183.05,884.59 181.16,890.4 186.1,886.81 191.04,890.4 189.15,884.59 194.09,881 187.99,881" fill="none" stroke="#000" stroke-width="1.5" stroke-miterlimit="4"/>
<text transform="translate(227.56,889.8) scale(0.9145,1)" style="font-size:23px;" fill="#000">ASHES</text>
<text transform="translate(404.68,703.5) scale(1.3013,1)" style="font-size:33px;font-style:italic;" fill="#000">θ</text>
<text transform="translate(426.37,709.1) scale(1.0641,1)" style="font-size:24.3px;font-style:italic;" fill="#000">resol</text>
<text transform="translate(495.81,703.5) scale(0.7772,1)" style="font-size:33px;" fill="#000">(</text>
<text transform="translate(508.38,703.5) scale(1.0842,1)" style="font-size:33px;" fill="#000">au</text>
<text transform="translate(552.66,703.5) scale(0.7315,1)" style="font-size:33px;" fill="#000">)</text>
<text transform="translate(384.38,1440.3) scale(1.0573,1)" style="font-size:33px;font-style:italic;" fill="#000">λ</text>
<text transform="translate(404.58,1428.3) scale(1.1082,1)" style="font-size:24.3px;font-style:italic;" fill="#000">th</text>
<text transform="translate(398.34,1449.4) scale(0.7581,1)" style="font-size:24.3px;font-style:italic;" fill="#000">J</text>
<text transform="translate(408.67,1449.4) scale(1.3418,1)" style="font-size:24.3px;" fill="#000">,</text>
<text transform="translate(422.34,1449.4) scale(1.0784,1)" style="font-size:24.3px;font-style:italic;" fill="#000">clump</text>
<text transform="translate(494.9,1440.3) scale(1.0689,1)" style="font-size:33px;" fill="#000">/</text>
<text transform="translate(504.33,1440.3) scale(1.1511,1)" style="font-size:33px;font-style:italic;" fill="#000">θ</text>
<text transform="translate(527.58,1445.4) scale(1.0339,1)" style="font-size:24.3px;font-style:italic;" fill="#000">resol</text>
<g transform="translate(40.2,428.2) rotate(-90)">
<text transform="translate(-1.04,0) scale(1.0199,1)" style="font-size:33px;font-style:italic;" fill="#000">M</text>
<text transform="translate(29.15,5.6) scale(0.8399,1)" style="font-size:24.3px;" fill="#000">1</text>
<text transform="translate(40.05,5.6) scale(1.1776,1)" style="font-size:24.3px;font-style:italic;" fill="#000">σ</text>
<text transform="translate(57.65,5.6) scale(1.2579,1)" style="font-size:24.3px;" fill="#000">,</text>
<text transform="translate(66.73,5.6) scale(1.0990,1)" style="font-size:24.3px;font-style:italic;" fill="#000">sens</text>
<text transform="translate(135.81,0) scale(0.7772,1)" style="font-size:33px;" fill="#000">(</text>
<text transform="translate(147.56,0) scale(1.0274,1)" style="font-size:33px;font-style:italic;" fill="#000">M</text>
<circle cx="190.6" cy="-1.3" r="6.6" fill="none" stroke="#000" stroke-width="1.5"/><circle cx="190.6" cy="-1.3" r="1.5" fill="#000"/>
<text transform="translate(209.76,0) scale(0.7315,1)" style="font-size:33px;" fill="#000">)</text>
</g>
<g transform="translate(31.9,1177.8) rotate(-90)">
<text transform="translate(-1.04,0) scale(1.0274,1)" style="font-size:33px;font-style:italic;" fill="#000">M</text>
<text transform="translate(29.55,-12.2) scale(1.1359,1)" style="font-size:24.3px;font-style:italic;" fill="#000">th</text>
<text transform="translate(23.25,9) scale(0.7904,1)" style="font-size:24.3px;font-style:italic;" fill="#000">J</text>
<text transform="translate(32.85,9) scale(1.2579,1)" style="font-size:24.3px;" fill="#000">,</text>
<text transform="translate(45.93,9) scale(1.0942,1)" style="font-size:24.3px;font-style:italic;" fill="#000">clump</text>
<text transform="translate(119.6,0) scale(1.1343,1)" style="font-size:33px;" fill="#000">/</text>
<text transform="translate(130.36,0) scale(1.0274,1)" style="font-size:33px;font-style:italic;" fill="#000">M</text>
<text transform="translate(160.55,5.6) scale(0.8399,1)" style="font-size:24.3px;" fill="#000">1</text>
<text transform="translate(171.45,5.6) scale(1.1776,1)" style="font-size:24.3px;font-style:italic;" fill="#000">σ</text>
<text transform="translate(189.05,5.6) scale(1.2579,1)" style="font-size:24.3px;" fill="#000">,</text>
<text transform="translate(198.13,5.6) scale(1.0990,1)" style="font-size:24.3px;font-style:italic;" fill="#000">sens</text>
</g>
</svg></body></html>
